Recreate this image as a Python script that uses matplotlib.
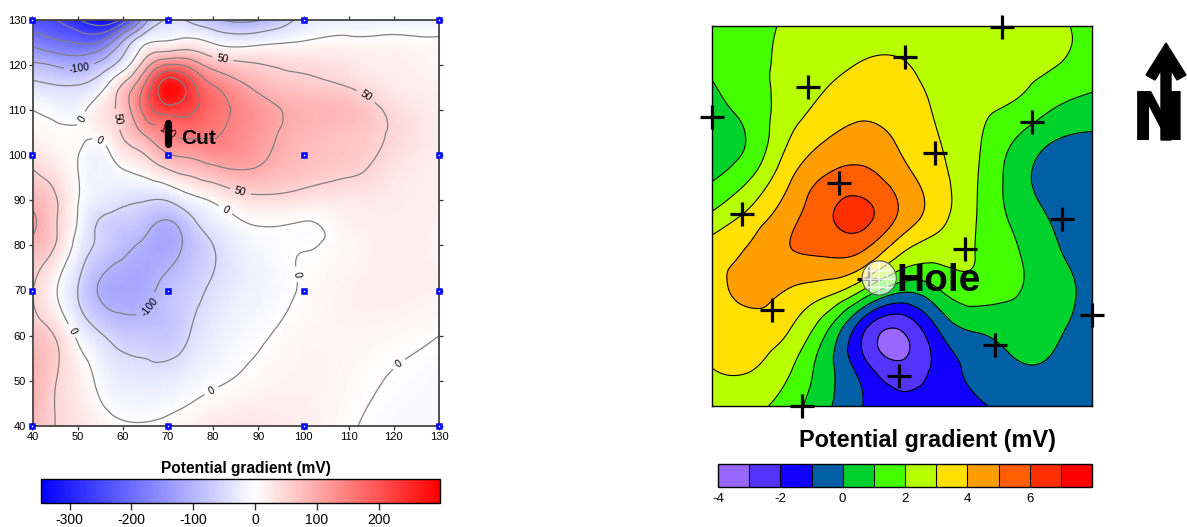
import matplotlib
matplotlib.use('Agg')
import matplotlib.pyplot as plt
import matplotlib.tri as tri
import numpy as np
from matplotlib.cm import ScalarMappable
from matplotlib.colors import BoundaryNorm, LinearSegmentedColormap, ListedColormap, Normalize
from matplotlib.patches import Circle, Polygon

plt.rcParams['font.family'] = ['Liberation Sans', 'DejaVu Sans']
plt.rcParams['axes.unicode_minus'] = False

W, H = 1187, 527

# left map, values, closer spacing around the peak
left_x = [40, 45, 50, 55, 60, 65, 70, 75, 80, 90, 100, 110, 120, 130]
left_y = [130, 125, 120, 115, 110, 105, 100, 90, 85, 80, 70, 60, 50, 40]
left_z = [
    [-235, -250, -295, -340, -290, -120, -45, -60, -90, -105, -38, -25, -22, -22],
    [-165, -190, -205, -195, -95, -8, 5, 15, -5, -12, 2, 8, 8, 5],
    [-92, -105, -115, -85, -25, 75, 150, 130, 80, 52, 40, 28, 18, 12],
    [-35, -45, -45, -15, 60, 165, 285, 225, 155, 90, 65, 50, 25, 18],
    [0, -10, -12, 25, 70, 170, 225, 210, 170, 120, 88, 78, 40, 20],
    [10, 5, 5, 15, 55, 110, 150, 165, 155, 118, 85, 70, 45, 20],
    [35, 15, 1, -15, 22, 50, 95, 108, 125, 110, 78, 65, 38, 20],
    [85, 55, 2, -25, -40, -48, -47, -15, 5, 38, 30, 27, 22, 17],
    [112, 55, -2, -55, -70, -85, -105, -65, -25, 3, -1, 14, 20, 15],
    [85, 50, -15, -60, -88, -108, -118, -85, -50, -10, -2, 10, 18, 14],
    [52, 5, -50, -105, -118, -112, -85, -65, -42, -15, 3, 15, 18, 15],
    [72, 48, -8, -45, -70, -75, -75, -48, -25, -4, 10, 12, 8, 0],
    [95, 52, 22, -8, -25, -30, -27, -15, -5, 8, 15, 8, -2, -8],
    [80, 50, 32, 15, 4, 3, 8, 15, 25, 30, 18, 3, -8, -8],
]
left_levels = [-300, -250, -200, -150, -100, -50, 0, 50, 100, 150, 200, 250]
left_vmin, left_vmax = -347, 298
left_ticks = [-300, -200, -100, 0, 100, 200]
axis_ticks = [40, 50, 60, 70, 80, 90, 100, 110, 120, 130]
sensor_x = [40, 70, 100, 130]
sensor_y = [130, 100, 70, 40]
label_spots = [(50.4, 119.2), (82.2, 121.9), (113.6, 112.7), (50.5, 108.3), (58.1, 107.8),
               (70, 105.2), (54.6, 102.6), (86.1, 92.1), (82.4, 87.4), (48.1, 60.7),
               (65, 67.5), (79.4, 48.2), (98.5, 73.6), (121.6, 53.1)]

# right map, values read on an 11 by 11 grid
right_x = list(range(11))
right_y = list(range(10, -1, -1))
right_z = [
    [1.3, 1.7, 2.1, 2.3, 2.5, 2.6, 2.6, 2.5, 2.4, 2.15, 1.8],
    [1.15, 1.75, 2.2, 2.7, 3.05, 3.05, 2.7, 2.5, 2.3, 2.05, 1.6],
    [0.75, 1.5, 2.4, 3.2, 3.6, 3.4, 2.8, 2.25, 1.95, 1.2, 0.75],
    [0.55, 1.15, 2.95, 4.0, 4.4, 3.8, 3.0, 2.1, 0.95, 0.03, -0.2],
    [0.9, 1.95, 3.8, 5.1, 5.35, 4.4, 3.3, 2.0, 0.5, -0.5, -0.8],
    [2.2, 3.3, 4.6, 5.8, 6.25, 4.75, 3.35, 1.95, 0.75, -0.15, -0.9],
    [3.5, 4.2, 4.9, 5.1, 4.8, 2.95, 2.3, 1.95, 1.1, 0.2, -0.6],
    [3.4, 4.3, 3.9, 3.3, 1.7, 0.05, 0.9, 1.5, 1.05, 0.5, -0.4],
    [3.3, 3.5, 3.05, 1.15, -1.9, -2.95, -0.9, 0.1, 0.5, 0.2, -0.5],
    [3.0, 3.05, 2.2, 0.4, -1.6, -2.7, -1.6, -0.75, -0.15, -0.15, -0.6],
    [2.6, 2.3, 1.5, 0.2, -1.05, -1.8, -1.6, -1.1, -0.7, -0.6, -0.8],
]
right_levels = [-4, -3, -2, -1, 0, 1, 2, 3, 4, 5, 6, 7, 8]
right_colors = ['#9966FF', '#5533FF', '#1100FF', '#005FA5', '#00D22D', '#44FF00',
                '#B8FF00', '#FFE000', '#FF9E00', '#FF5F00', '#FF3000', '#FF0000']
right_ticks = [-4, -2, 0, 2, 4, 6]
cross_x = [7.63, 5.08, 2.53, 0.0, 8.42, 5.87, 3.34, 0.79, 9.21, 6.66, 4.13, 1.58, 10.0, 7.45, 4.92, 2.37]
cross_y = [9.97, 9.18, 8.39, 7.61, 7.47, 6.66, 5.87, 5.05, 4.92, 4.13, 3.34, 2.53, 2.39, 1.61, 0.79, 0.0]


def box(x0, y0, x1, y1):
    # pixel box of the reference to figure fractions
    return [x0 / W, 1 - y1 / H, (x1 - x0) / W, (y1 - y0) / H]


def refine(xs, ys, zs):
    gx, gy = np.meshgrid(xs, ys)
    t = tri.Triangulation(gx.ravel(), gy.ravel())
    z = np.array(zs, dtype=float).ravel()
    interp = tri.CubicTriInterpolator(t, z, kind='min_E')
    return tri.UniformTriRefiner(t).refine_field(z, triinterpolator=interp, subdiv=4)


def main():
    fig = plt.figure(figsize=(W / 100, H / 100), dpi=100)

    # LEFT MAP
    cmap = LinearSegmentedColormap.from_list(
        'bwr_off', [(0, '#0000FF'), (-left_vmin / (left_vmax - left_vmin), '#FFFFFF'), (1, '#FF0000')])
    norm = Normalize(left_vmin, left_vmax)

    ax = fig.add_axes(box(32.5, 19.5, 439, 426))
    mesh, field = refine(left_x, left_y, left_z)
    ax.tripcolor(mesh, field, shading='gouraud', cmap=cmap, norm=norm)
    cs = ax.tricontour(mesh, field, levels=left_levels, colors='#808080', linewidths=0.9, linestyles='solid')
    ax.clabel(cs, fmt='%d', fontsize=7.5, colors='black', manual=label_spots)
    ax.set_xlim(40, 130)
    ax.set_ylim(40, 130)
    ax.set_xticks(axis_ticks)
    ax.set_yticks(axis_ticks)
    ax.tick_params(top=True, right=True, length=3, width=0.9, labelsize=8, pad=1.5, color='#333333')
    for s in ax.spines.values():
        s.set_linewidth(1.3)
        s.set_color('#444444')
    sx, sy = np.meshgrid(sensor_x, sensor_y)
    ax.plot(sx.ravel(), sy.ravel(), 's', ms=3.2, mfc='white', mec='#0000FF', mew=1.8, clip_on=False, zorder=6)
    ax.plot([70, 70], [107, 102.5], color='black', lw=5.2, solid_capstyle='round', zorder=7)
    ax.text(73, 103.6, 'Cut', fontsize=15, fontweight='bold', va='center', zorder=7)

    cax = fig.add_axes(box(40.5, 478.5, 439.5, 503))
    cb = fig.colorbar(ScalarMappable(norm=norm, cmap=cmap), cax=cax, orientation='horizontal')
    cb.set_ticks(left_ticks)
    cb.ax.tick_params(length=5, width=1, labelsize=10, pad=2, color='#333333')
    cb.outline.set_linewidth(1)
    fig.text(245.5 / W, 1 - 469 / H, 'Potential gradient (mV)', fontsize=11.2, fontweight='bold', ha='center', va='center')

    # RIGHT MAP
    ax2 = fig.add_axes(box(712, 26, 1092, 406))
    mesh2, field2 = refine(right_x, right_y, right_z)
    ax2.tricontourf(mesh2, field2, levels=right_levels, colors=right_colors, extend='neither')
    ax2.tricontour(mesh2, field2, levels=right_levels, colors='black', linewidths=0.8, linestyles='solid')
    ax2.set_xlim(0, 10)
    ax2.set_ylim(0, 10)
    ax2.set_xticks([])
    ax2.set_yticks([])
    for s in ax2.spines.values():
        s.set_linewidth(1)
    ax2.plot(cross_x, cross_y, '+', color='black', ms=17, mew=2.3, clip_on=False, zorder=5)

    # the hole covers one of the crosses
    ax2.add_patch(Circle((4.4, 3.37), 0.45, facecolor=(1, 1, 1, 0.65), edgecolor='none', zorder=6))
    ax2.add_patch(Circle((4.4, 3.37), 0.45, facecolor='none', edgecolor=(1, 1, 1, 0.8), hatch='++', lw=0, zorder=6))
    ax2.add_patch(Circle((4.4, 3.37), 0.45, facecolor='none', edgecolor='#555555', lw=0.8, zorder=6))
    ax2.text(4.85, 3.28, 'Hole', fontsize=28, fontweight='bold', va='center', zorder=7)

    cax2 = fig.add_axes(box(718, 464, 1092, 487))
    cb2 = fig.colorbar(ScalarMappable(norm=BoundaryNorm(right_levels, 12), cmap=ListedColormap(right_colors)),
                       cax=cax2, orientation='horizontal', drawedges=True, spacing='proportional')
    cb2.set_ticks(right_ticks)
    cb2.minorticks_off()
    cb2.ax.tick_params(length=0, labelsize=9.5, pad=4)
    cb2.outline.set_linewidth(1)
    cb2.dividers.set_linewidth(0.8)
    fig.text(927 / W, 1 - 441 / H, 'Potential gradient (mV)', fontsize=16.9, fontweight='bold', ha='center', va='center')

    # NORTH ARROW
    arrow = [(1166, 43), (1186, 75), (1177, 80), (1171, 70), (1171, 140), (1161, 140),
             (1161, 70), (1155, 80), (1146, 75)]
    fig.add_artist(Polygon([(x / W, 1 - y / H) for x, y in arrow], closed=True, color='black',
                           transform=fig.transFigure))
    fig.text(1131 / W, 1 - 140 / H, 'N', fontsize=48, fontweight='bold', family='DejaVu Sans', ha='left', va='baseline')

    fig.savefig('out.png', dpi=100)


if __name__ == "__main__":
    main()
